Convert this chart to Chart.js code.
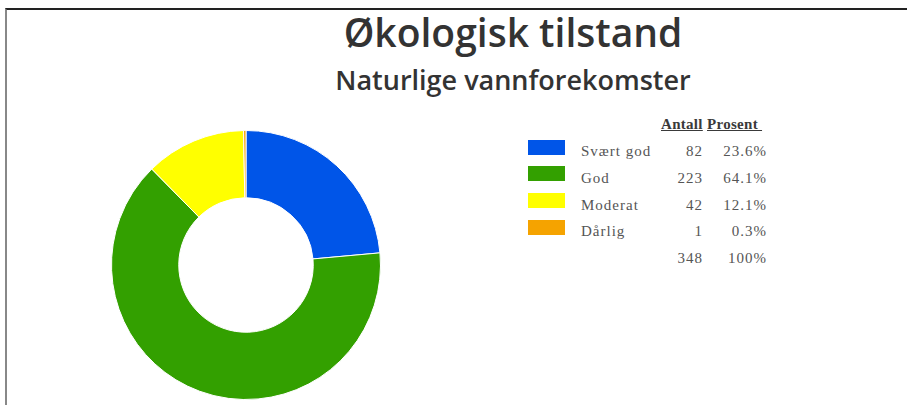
<!DOCTYPE html>
<html lang="no">
<head>
<meta charset="utf-8">
<script src="https://cdn.jsdelivr.net/npm/chart.js@4/dist/chart.umd.min.js"></script>
<style>
  html, body { margin: 0; padding: 0; background: #fff; }
  body { width: 907px; height: 405px; position: relative; overflow: hidden; }
  .frame { position: absolute; left: 5px; top: 8px; right: 0; bottom: -2px;
           border-top: 2px solid #222; border-left: 2px solid #888; }
  .title { position: absolute; left: 0; width: 1026px; text-align: center;
           font-family: "Open Sans", sans-serif; font-weight: 600; color: #333; margin: 0; }
  #t1 { top: 8px; font-size: 39px; line-height: 48px; }
  #t2 { top: 62px; font-size: 27px; line-height: 36px; }
  #chartBox { position: absolute; left: 111px; top: 130px; width: 270px; height: 270px; }
  #legend { position: absolute; left: 0; top: 0; font-family: "Liberation Serif", "Times New Roman", serif;
            font-size: 15px; line-height: 16px; color: #555; letter-spacing: 1px; }
  #legend div { position: absolute; white-space: nowrap; }
  .hdr { font-weight: bold; text-decoration: underline; color: #3a3a3a; letter-spacing: 0.3px; }
  .num { text-align: right; }
</style>
</head>
<body>
<div class="frame"></div>
<h1 class="title" id="t1">Økologisk tilstand</h1>
<h2 class="title" id="t2">Naturlige vannforekomster</h2>
<div id="chartBox"><canvas id="donut"></canvas></div>
<div id="legend"></div>

<script>
// Ecological status classes and number of water bodies in each
const categories = ["Svært god", "God", "Moderat", "Dårlig"];
const counts = [82, 223, 42, 1];
const colors = ["#0055E8", "#33A000", "#FFFF00", "#F5A300"];

const total = counts.reduce((a, b) => a + b, 0);
const percents = counts.map(v => (v / total * 100).toFixed(1) + "%");

new Chart(document.getElementById("donut"), {
  type: "doughnut",
  data: {
    labels: categories,
    datasets: [{
      data: counts,
      backgroundColor: colors,
      borderColor: "#ffffff",
      borderWidth: 1
    }]
  },
  options: {
    responsive: true,
    maintainAspectRatio: false,
    animation: false,
    cutout: "50%",
    layout: { padding: 0 },
    plugins: { legend: { display: false }, tooltip: { enabled: false } }
  }
});

// Legend table: colour swatch, class name, count and share
const legend = document.getElementById("legend");
function cell(text, left, top, width, cls) {
  const d = document.createElement("div");
  d.textContent = text;
  d.style.left = left + "px";
  d.style.top = top + "px";
  if (width) d.style.width = width + "px";
  if (cls) d.className = cls;
  legend.appendChild(d);
  return d;
}
cell("Antall", 661, 116, null, "hdr");
cell("Prosent\u00a0", 707, 116, null, "hdr");
const rowTop = 143, rowStep = 26.8;
categories.forEach((name, i) => {
  const y = rowTop + i * rowStep;
  const sw = cell("", 528, y - 3.5, 37);
  sw.style.height = "15px";
  sw.style.background = colors[i];
  cell(name, 581, y, null);
  cell(String(counts[i]), 643, y, 60, "num");
  cell(percents[i], 697, y, 70, "num");
});
const ty = rowTop + categories.length * rowStep;
cell(String(total), 643, ty, 60, "num");
cell("100%", 697, ty, 70, "num");
</script>
</body>
</html>
